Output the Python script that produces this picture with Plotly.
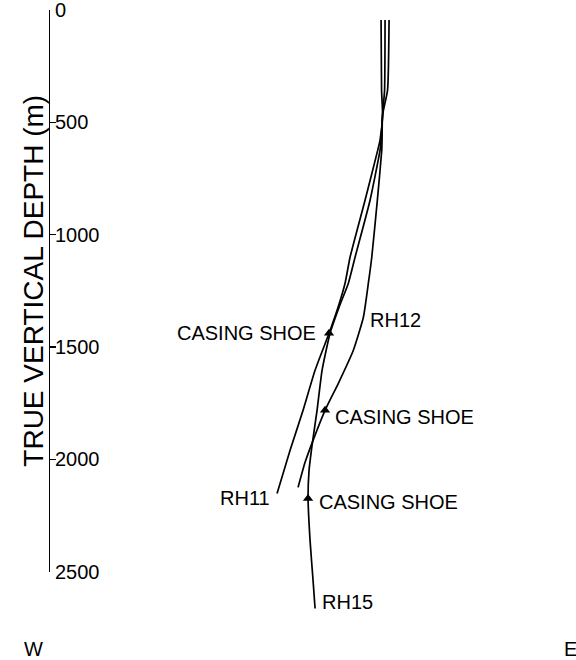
import plotly.graph_objects as go

# ---- data (horizontal offset in m, + = east; true vertical depth in m) ----
depth_ticks = [0, 500, 1000, 1500, 2000, 2500]
tick_labels = ["0", "500", "1000", "1500", "2000", "2500"]

rh11_offset = [-17.8, -15.6, -11.1, -22.3, -32.5, -89.1, -155.9, -178.1, -209.3, -249.4,
               -311.7, -365.1, -423.0, -480.9]
rh11_depth = [44.7, 356.4, 467.7, 579.1, 623.6, 846.3, 1100.1, 1215.8, 1322.7, 1438.5,
              1603.3, 1781.4, 1959.5, 2151.0]

rh12_offset = [17.8, 11.1, -11.1, -13.4, -14.7, -34.3, -59.2, -74.4, -96.6, -141.2,
               -208.0, -267.2, -320.6, -356.2, -387.4]
rh12_depth = [44.7, 356.4, 467.7, 579.1, 623.6, 846.3, 1100.1, 1215.8, 1367.2, 1514.2,
              1661.2, 1781.4, 1915.0, 2012.9, 2124.3]

rh15_offset = [0.0, -2.2, -11.1, -17.8, -22.3, -66.8, -133.6, -163.4, -204.8, -244.9,
               -280.5, -302.8, -325.1, -338.4, -342.9, -334.0, -320.6, -311.7]
rh15_depth = [44.7, 356.4, 467.7, 579.1, 623.6, 846.3, 1100.1, 1215.8, 1322.7, 1438.5,
              1603.3, 1781.4, 1937.2, 2048.6, 2173.3, 2360.3, 2538.4, 2663.1]

shoe_wells = ["RH11", "RH12", "RH15"]
shoe_offset = [-249.4, -267.2, -342.9]
shoe_depth = [1438.5, 1781.4, 2173.3]

well_names = ["RH11", "RH12", "RH15"]
well_label_offset = [-503.2, -75.7, -289.4]
well_label_depth = [2173.3, 1380.6, 2635.0]

shoe_label_offset = [-298.4, -231.6, -302.8]
shoe_label_depth = [1438.5, 1811.2, 2189.7]
shoe_label_anchor = ["right", "left", "left"]

X_RANGE = [-1492, 779]
Y_MAX = 2750
AXIS_MAX = 2500

FONT = "Liberation Sans, Arial, Helvetica, sans-serif"

fig = go.Figure()
for off, dep in [(rh11_offset, rh11_depth), (rh12_offset, rh12_depth), (rh15_offset, rh15_depth)]:
    fig.add_trace(go.Scatter(
        x=off, y=dep, mode="lines",
        line=dict(color="black", width=1.7, shape="spline", smoothing=0.5),
        hoverinfo="skip", showlegend=False))

fig.add_trace(go.Scatter(
    x=shoe_offset, y=shoe_depth, mode="markers", text=shoe_wells,
    marker=dict(symbol="triangle-up", size=9, color="black"),
    hoverinfo="skip", showlegend=False, cliponaxis=False))

# invisible trace to create the depth-axis subplot (axis only spans 0-2500)
fig.add_trace(go.Scatter(x=[X_RANGE[0]], y=[0], xaxis="x", yaxis="y2",
                         mode="markers", marker=dict(opacity=0),
                         hoverinfo="skip", showlegend=False))

annotations = []
for name, xo, yd in zip(well_names, well_label_offset, well_label_depth):
    anchor = "right" if name == "RH11" else "left"
    annotations.append(dict(x=xo, y=yd, xref="x", yref="y", text=name, showarrow=False,
                            xanchor=anchor, yanchor="middle",
                            font=dict(size=20, color="black", family=FONT)))
for xo, yd, anc in zip(shoe_label_offset, shoe_label_depth, shoe_label_anchor):
    annotations.append(dict(x=xo, y=yd, xref="x", yref="y", text="CASING SHOE", showarrow=False,
                            xanchor=anc, yanchor="middle",
                            font=dict(size=20, color="black", family=FONT)))

annotations.append(dict(x=-0.0314, y=0.562, xref="paper", yref="paper",
                        text="TRUE VERTICAL DEPTH (m)", textangle=-90, showarrow=False,
                        xanchor="center", yanchor="middle",
                        font=dict(size=28, color="black", family=FONT)))
annotations.append(dict(x=-0.0333, y=-0.034, xref="paper", yref="paper", text="W",
                        showarrow=False, xanchor="center", yanchor="middle",
                        font=dict(size=20, color="black", family=FONT)))
annotations.append(dict(x=1.0215, y=-0.034, xref="paper", yref="paper", text="E",
                        showarrow=False, xanchor="center", yanchor="middle",
                        font=dict(size=20, color="black", family=FONT)))

fig.update_layout(
    width=576, height=660, autosize=False,
    margin=dict(l=50, r=16, t=10, b=32.4, pad=0, autoexpand=False),
    paper_bgcolor="white", plot_bgcolor="rgba(0,0,0,0)",
    xaxis=dict(range=X_RANGE, visible=False, fixedrange=True, automargin=False),
    yaxis=dict(range=[Y_MAX, 0], visible=False, fixedrange=True, automargin=False),
    yaxis2=dict(range=[AXIS_MAX, 0], domain=[1 - AXIS_MAX / Y_MAX, 1], anchor="x",
                side="left", showline=True, linecolor="black", linewidth=1.4,
                showgrid=False, zeroline=False, automargin=False, fixedrange=True,
                tickmode="array", tickvals=depth_ticks, ticktext=tick_labels,
                ticks="inside", ticklen=6, tickwidth=1.4, tickcolor="black",
                ticklabelposition="inside", ticklabeloverflow="allow",
                tickfont=dict(size=20, color="black", family=FONT)),
    annotations=annotations,
    showlegend=False,
)

fig.write_html("out.html", config={"displayModeBar": False, "staticPlot": True},
               post_script="document.body.style.margin='0px';")
